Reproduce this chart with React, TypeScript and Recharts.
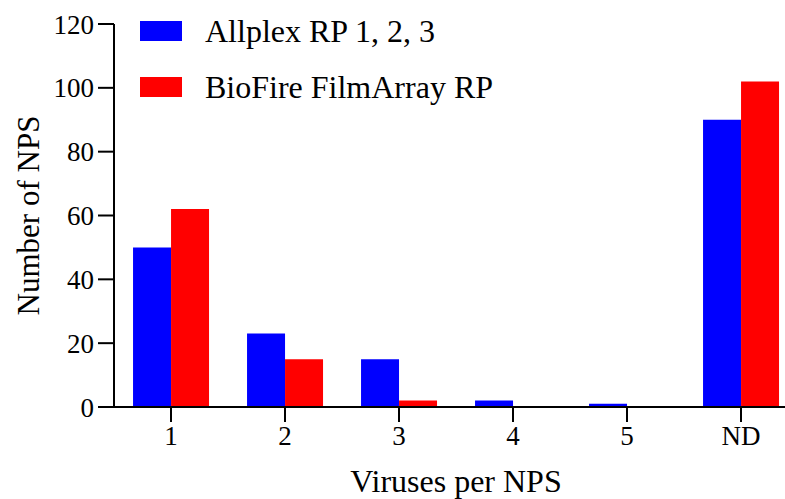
import { BarChart, Bar, XAxis, YAxis, Label } from "recharts";

const categories = ["1", "2", "3", "4", "5", "ND"];
const allplex = [50, 23, 15, 2, 1, 90];
const biofire = [62, 15, 2, 0, 0, 102];
const yTicks = [0, 20, 40, 60, 80, 100, 120];

const data = categories.map((c, i) => ({
  name: c,
  allplex: allplex[i],
  biofire: biofire[i],
}));

const font = "'Liberation Serif', 'Times New Roman', serif";

function ChartLegend() {
  const items = [
    { label: "Allplex RP 1, 2, 3", color: "#0000FF" },
    { label: "BioFire FilmArray RP", color: "#FF0000" },
  ];
  return (
    <div style={{ position: "absolute", left: 140, top: 13, fontFamily: font }}>
      {items.map((it) => (
        <div
          key={it.label}
          style={{ display: "flex", alignItems: "center", height: 36, marginBottom: 20 }}
        >
          <div style={{ width: 42, height: 20, background: it.color }} />
          <span style={{ marginLeft: 23, fontSize: 32, lineHeight: "36px", color: "#000" }}>
            {it.label}
          </span>
        </div>
      ))}
    </div>
  );
}

export default function App() {
  return (
    <div
      style={{
        position: "fixed",
        left: 0,
        top: 0,
        width: 785,
        height: 499,
        overflow: "hidden",
        background: "#fff",
      }}
    >
      <BarChart
        width={800}
        height={499}
        data={data}
        margin={{ top: 24, right: 2, bottom: 0, left: 0 }}
        barCategoryGap="16.7%"
        barGap={0}
      >
        <XAxis
          dataKey="name"
          height={92}
          axisLine={{ stroke: "#000", strokeWidth: 2 }}
          tickLine={{ stroke: "#000", strokeWidth: 2 }}
          tickSize={15}
          tickMargin={4}
          tick={{ fill: "#000", fontSize: 27, fontFamily: font }}
        >
          <Label
            value="Viruses per NPS"
            position="insideBottom"
            offset={7}
            style={{ fill: "#000", fontSize: 32, fontFamily: font }}
          />
        </XAxis>
        <YAxis
          width={114}
          domain={[0, 120]}
          ticks={yTicks}
          interval={0}
          axisLine={{ stroke: "#000", strokeWidth: 2 }}
          tickLine={{ stroke: "#000", strokeWidth: 2 }}
          tickSize={16}
          tickMargin={4}
          tick={{ fill: "#000", fontSize: 27, fontFamily: font }}
        >
          <Label
            value="Number of NPS"
            angle={-90}
            position="insideLeft"
            offset={28}
            style={{ fill: "#000", fontSize: 31, fontFamily: font, textAnchor: "middle" }}
          />
        </YAxis>
        <Bar dataKey="allplex" fill="#0000FF" isAnimationActive={false} />
        <Bar dataKey="biofire" fill="#FF0000" isAnimationActive={false} />
      </BarChart>
      <ChartLegend />
    </div>
  );
}
